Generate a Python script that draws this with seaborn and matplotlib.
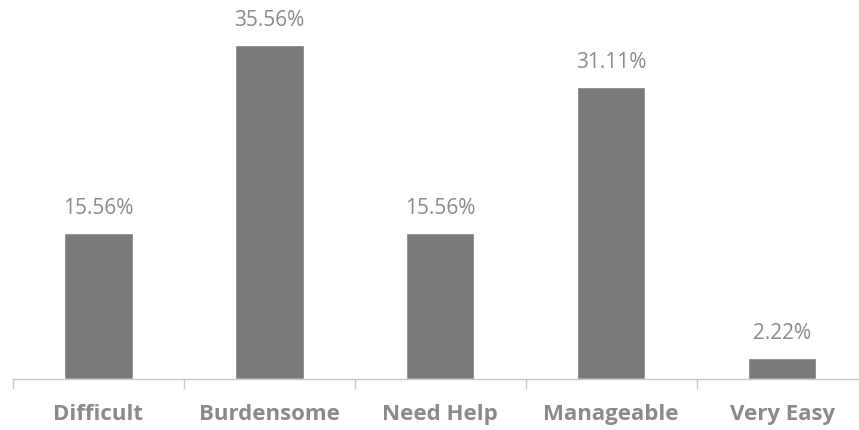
import matplotlib
matplotlib.use("Agg")
import matplotlib.pyplot as plt
import seaborn as sns
import pandas as pd

categories = ["Difficult", "Burdensome", "Need Help", "Manageable", "Very Easy"]
values = [15.56, 35.56, 15.56, 31.11, 2.22]
labels = ["15.56%", "35.56%", "15.56%", "31.11%", "2.22%"]

sns.set_theme(style="white")
plt.rcParams['font.family'] = ['Open Sans', 'DejaVu Sans']

df = pd.DataFrame({"cat": categories, "val": values})

fig = plt.figure(figsize=(8.59, 4.31), dpi=100)
ax = fig.add_axes([13/859, 51/431, 1 - 13/859 + 0.0, 380/431])
sns.barplot(data=df, x="cat", y="val", color="#7a7a7a", saturation=1,
            width=0.4, ax=ax)
ax.set_xlim(-0.5, 4.45)
ax.set_ylim(0, 40.5)
for i, (v, t) in enumerate(zip(values, labels)):
    ax.text(i, v + 1.6, t, ha="center", va="bottom", fontsize=15,
            color="#8a8a8a")

for s in ["top", "right", "left"]:
    ax.spines[s].set_visible(False)
ax.spines["bottom"].set_color("#c8c8c8")
ax.spines["bottom"].set_linewidth(1)
ax.set_yticks([])
ax.set_xlabel("")
ax.set_ylabel("")
ax.set_xticks(range(len(categories)))
ax.set_xticklabels(categories, fontsize=16, fontweight="bold", color="#8a8a8a")
ax.tick_params(axis="x", which="major", length=0, pad=17)
ax.set_xticks([-0.5, 0.5, 1.5, 2.5, 3.5], minor=True)
ax.tick_params(axis="x", which="minor", length=7, width=1, color="#c8c8c8",
               bottom=True)

fig.savefig("out.png", dpi=100, facecolor="white")
